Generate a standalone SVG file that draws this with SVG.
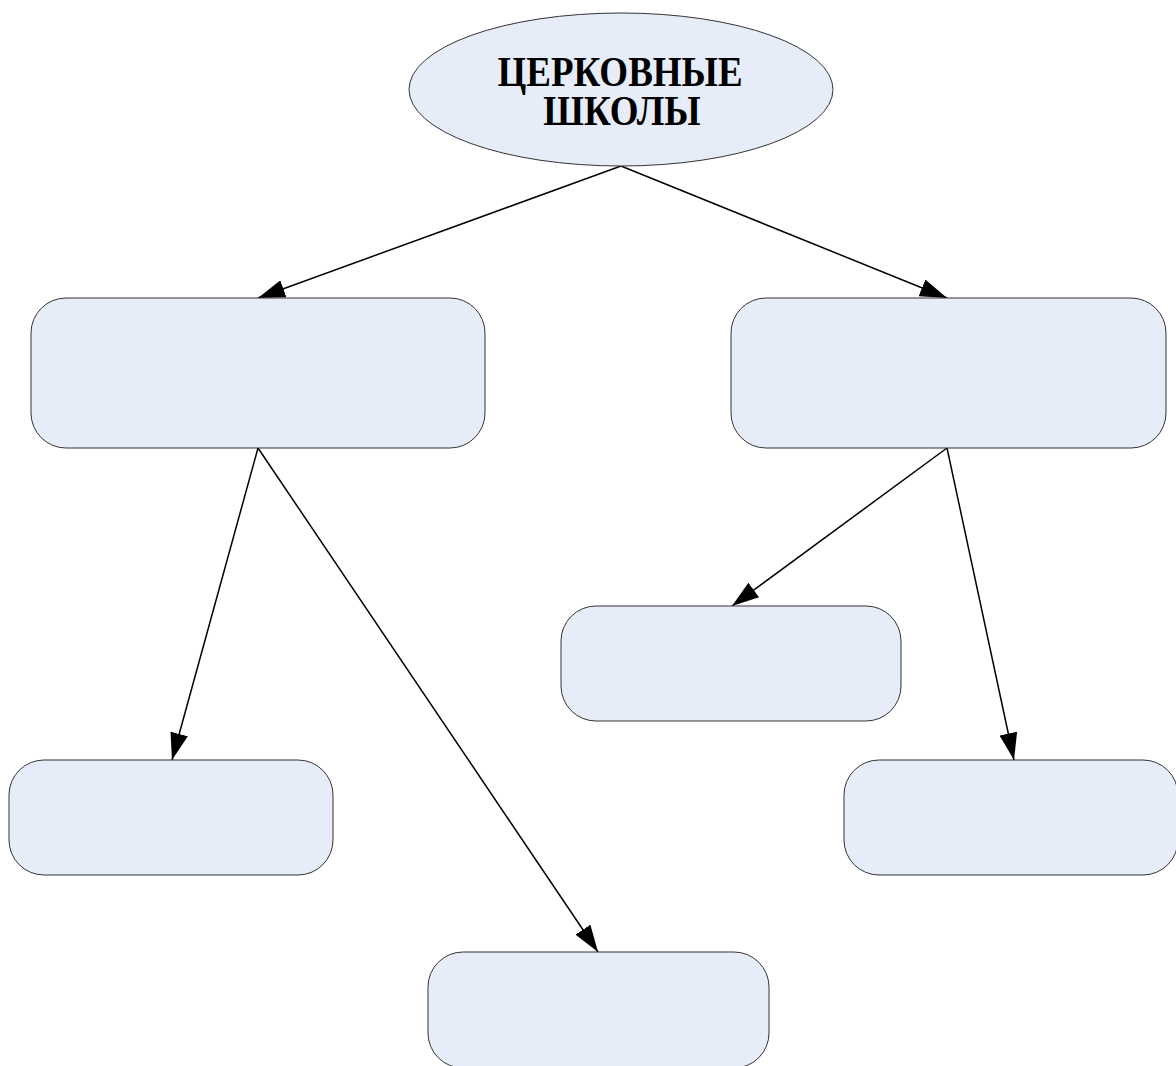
<svg xmlns="http://www.w3.org/2000/svg" width="1176" height="1066" viewBox="0 0 1176 1066">
<style>
.node{fill:#E6EDF8;stroke:#333333;stroke-width:1}
.conn{stroke:#000000;stroke-width:1.5;fill:none}
.lbl{font-family:"Liberation Serif","Times New Roman",serif;font-weight:bold;font-size:37px;fill:#000000;text-anchor:middle}
</style>
<defs>
<marker id="arr" markerUnits="userSpaceOnUse" markerWidth="28" markerHeight="18" refX="27" refY="9" orient="auto">
<path d="M0,0 L27,9 L0,18 z" fill="#000000"/>
</marker>
</defs>
<rect width="1176" height="1066" fill="#ffffff"/>
<g id="connectors">
<line class="conn" x1="621" y1="166" x2="258" y2="298" marker-end="url(#arr)"/>
<line class="conn" x1="621" y1="166" x2="947" y2="298" marker-end="url(#arr)"/>
<line class="conn" x1="258" y1="448" x2="172" y2="760" marker-end="url(#arr)"/>
<line class="conn" x1="258" y1="448" x2="598" y2="952" marker-end="url(#arr)"/>
<line class="conn" x1="947" y1="448" x2="732" y2="606" marker-end="url(#arr)"/>
<line class="conn" x1="947" y1="448" x2="1014" y2="760" marker-end="url(#arr)"/>
</g>
<g id="root">
<ellipse class="node" cx="621" cy="89.5" rx="212" ry="76.5"/>
<text class="lbl" transform="translate(620,86) scale(1,1.12)"><tspan x="0" y="0">ЦЕРКОВНЫЕ</tspan><tspan x="2" y="35">ШКОЛЫ</tspan></text>
</g>
<g id="left-top"><rect class="node" x="31" y="298" width="454" height="150" rx="35" ry="35"/></g>
<g id="right-top"><rect class="node" x="731" y="298" width="435" height="150" rx="35" ry="35"/></g>
<g id="left-left"><rect class="node" x="9" y="760" width="324" height="115" rx="35" ry="35"/></g>
<g id="middle"><rect class="node" x="561" y="606" width="340" height="115" rx="35" ry="35"/></g>
<g id="right-right"><rect class="node" x="844" y="760" width="334" height="115" rx="35" ry="35"/></g>
<g id="bottom"><rect class="node" x="428" y="952" width="341" height="116" rx="35" ry="35"/></g>
</svg>
